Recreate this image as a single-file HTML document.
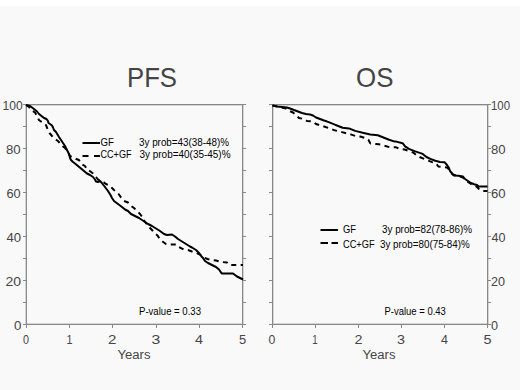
<!DOCTYPE html>
<html><head><meta charset="utf-8"><style>
html,body{margin:0;padding:0;background:#fff;}
body{width:520px;height:390px;overflow:hidden;position:relative;}
.bg{position:absolute;left:0;top:6px;width:520px;height:384px;background:#f9f9f9;}
svg{position:absolute;left:0;top:0;}
text{font-family:"Liberation Sans", sans-serif;}
</style></head><body>
<div class="bg"></div>
<svg width="520" height="390" viewBox="0 0 520 390">
<rect x="25" y="104" width="1" height="221" fill="#d4d4d4"/>
<rect x="243" y="104" width="1" height="221" fill="#d4d4d4"/>
<rect x="26" y="105" width="217" height="1" fill="#d4d4d4"/>
<rect x="26" y="323" width="217" height="1" fill="#d4d4d4"/>
<rect x="26" y="104" width="217" height="1" fill="#888"/>
<rect x="26" y="324" width="217" height="1" fill="#888"/>
<rect x="26" y="104" width="1" height="221" fill="#888"/>
<rect x="242" y="104" width="1" height="221" fill="#888"/>
<rect x="23" y="104" width="3" height="1" fill="#888"/>
<rect x="243" y="104" width="3" height="1" fill="#888"/>
<rect x="23" y="126" width="3" height="1" fill="#888"/>
<rect x="243" y="126" width="3" height="1" fill="#888"/>
<rect x="23" y="148" width="3" height="1" fill="#888"/>
<rect x="243" y="148" width="3" height="1" fill="#888"/>
<rect x="23" y="170" width="3" height="1" fill="#888"/>
<rect x="243" y="170" width="3" height="1" fill="#888"/>
<rect x="23" y="192" width="3" height="1" fill="#888"/>
<rect x="243" y="192" width="3" height="1" fill="#888"/>
<rect x="23" y="214" width="3" height="1" fill="#888"/>
<rect x="243" y="214" width="3" height="1" fill="#888"/>
<rect x="23" y="236" width="3" height="1" fill="#888"/>
<rect x="243" y="236" width="3" height="1" fill="#888"/>
<rect x="23" y="258" width="3" height="1" fill="#888"/>
<rect x="243" y="258" width="3" height="1" fill="#888"/>
<rect x="23" y="280" width="3" height="1" fill="#888"/>
<rect x="243" y="280" width="3" height="1" fill="#888"/>
<rect x="23" y="302" width="3" height="1" fill="#888"/>
<rect x="243" y="302" width="3" height="1" fill="#888"/>
<rect x="23" y="324" width="3" height="1" fill="#888"/>
<rect x="243" y="324" width="3" height="1" fill="#888"/>
<rect x="26" y="325" width="1" height="3" fill="#888"/>
<rect x="69" y="325" width="1" height="3" fill="#888"/>
<rect x="112" y="325" width="1" height="3" fill="#888"/>
<rect x="156" y="325" width="1" height="3" fill="#888"/>
<rect x="199" y="325" width="1" height="3" fill="#888"/>
<rect x="242" y="325" width="1" height="3" fill="#888"/>
<rect x="273" y="104" width="1" height="221" fill="#d4d4d4"/>
<rect x="488" y="104" width="1" height="221" fill="#d4d4d4"/>
<rect x="272" y="105" width="216" height="1" fill="#d4d4d4"/>
<rect x="272" y="323" width="216" height="1" fill="#d4d4d4"/>
<rect x="272" y="104" width="216" height="1" fill="#888"/>
<rect x="272" y="324" width="216" height="1" fill="#888"/>
<rect x="272" y="104" width="1" height="221" fill="#888"/>
<rect x="487" y="104" width="1" height="221" fill="#888"/>
<rect x="269" y="104" width="3" height="1" fill="#888"/>
<rect x="488" y="104" width="3" height="1" fill="#888"/>
<rect x="269" y="126" width="3" height="1" fill="#888"/>
<rect x="488" y="126" width="3" height="1" fill="#888"/>
<rect x="269" y="148" width="3" height="1" fill="#888"/>
<rect x="488" y="148" width="3" height="1" fill="#888"/>
<rect x="269" y="170" width="3" height="1" fill="#888"/>
<rect x="488" y="170" width="3" height="1" fill="#888"/>
<rect x="269" y="192" width="3" height="1" fill="#888"/>
<rect x="488" y="192" width="3" height="1" fill="#888"/>
<rect x="269" y="214" width="3" height="1" fill="#888"/>
<rect x="488" y="214" width="3" height="1" fill="#888"/>
<rect x="269" y="236" width="3" height="1" fill="#888"/>
<rect x="488" y="236" width="3" height="1" fill="#888"/>
<rect x="269" y="258" width="3" height="1" fill="#888"/>
<rect x="488" y="258" width="3" height="1" fill="#888"/>
<rect x="269" y="280" width="3" height="1" fill="#888"/>
<rect x="488" y="280" width="3" height="1" fill="#888"/>
<rect x="269" y="302" width="3" height="1" fill="#888"/>
<rect x="488" y="302" width="3" height="1" fill="#888"/>
<rect x="269" y="324" width="3" height="1" fill="#888"/>
<rect x="488" y="324" width="3" height="1" fill="#888"/>
<rect x="272" y="325" width="1" height="3" fill="#888"/>
<rect x="315" y="325" width="1" height="3" fill="#888"/>
<rect x="358" y="325" width="1" height="3" fill="#888"/>
<rect x="401" y="325" width="1" height="3" fill="#888"/>
<rect x="444" y="325" width="1" height="3" fill="#888"/>
<rect x="487" y="325" width="1" height="3" fill="#888"/>
<text x="127.00" y="87.00" font-size="28.50" fill="#444444" textLength="50.00" lengthAdjust="spacingAndGlyphs">PFS</text>
<text x="356.00" y="87.06" font-size="28.50" fill="#444444" textLength="37.40" lengthAdjust="spacingAndGlyphs">OS</text>
<text x="2.50" y="110.00" font-size="13.70" fill="#454545" textLength="20.20" lengthAdjust="spacingAndGlyphs">100</text>
<text x="6.00" y="154.38" font-size="13.70" fill="#454545" textLength="14.60" lengthAdjust="spacingAndGlyphs">80</text>
<text x="6.50" y="198.44" font-size="13.70" fill="#454545" textLength="14.20" lengthAdjust="spacingAndGlyphs">60</text>
<text x="6.50" y="242.12" font-size="13.70" fill="#454545" textLength="14.60" lengthAdjust="spacingAndGlyphs">40</text>
<text x="5.50" y="286.38" font-size="13.70" fill="#454545" textLength="15.60" lengthAdjust="spacingAndGlyphs">20</text>
<text x="14.00" y="330.00" font-size="13.70" fill="#454545" textLength="7.40" lengthAdjust="spacingAndGlyphs">0</text>
<text x="491.00" y="109.50" font-size="13.70" fill="#454545" textLength="19.00" lengthAdjust="spacingAndGlyphs">100</text>
<text x="491.00" y="153.94" font-size="13.70" fill="#454545" textLength="14.60" lengthAdjust="spacingAndGlyphs">80</text>
<text x="491.00" y="198.00" font-size="13.70" fill="#454545" textLength="14.60" lengthAdjust="spacingAndGlyphs">60</text>
<text x="491.50" y="242.06" font-size="13.70" fill="#454545" textLength="14.00" lengthAdjust="spacingAndGlyphs">40</text>
<text x="491.00" y="286.38" font-size="13.70" fill="#454545" textLength="14.00" lengthAdjust="spacingAndGlyphs">20</text>
<text x="491.00" y="330.00" font-size="13.70" fill="#454545" textLength="7.00" lengthAdjust="spacingAndGlyphs">0</text>
<text x="23.00" y="343.50" font-size="13.70" fill="#454545" textLength="6.00" lengthAdjust="spacingAndGlyphs">0</text>
<text x="66.50" y="343.50" font-size="13.70" fill="#454545" textLength="6.00" lengthAdjust="spacingAndGlyphs">1</text>
<text x="108.00" y="343.50" font-size="13.70" fill="#454545" textLength="8.40" lengthAdjust="spacingAndGlyphs">2</text>
<text x="151.50" y="343.50" font-size="13.70" fill="#454545" textLength="8.80" lengthAdjust="spacingAndGlyphs">3</text>
<text x="195.00" y="343.50" font-size="13.70" fill="#454545" textLength="8.00" lengthAdjust="spacingAndGlyphs">4</text>
<text x="239.00" y="343.50" font-size="13.70" fill="#454545" textLength="7.20" lengthAdjust="spacingAndGlyphs">5</text>
<text x="268.50" y="343.50" font-size="13.70" fill="#454545" textLength="6.80" lengthAdjust="spacingAndGlyphs">0</text>
<text x="312.25" y="343.50" font-size="13.70" fill="#454545" textLength="5.40" lengthAdjust="spacingAndGlyphs">1</text>
<text x="354.50" y="343.50" font-size="13.70" fill="#454545" textLength="8.00" lengthAdjust="spacingAndGlyphs">2</text>
<text x="397.00" y="343.50" font-size="13.70" fill="#454545" textLength="8.00" lengthAdjust="spacingAndGlyphs">3</text>
<text x="441.00" y="343.50" font-size="13.70" fill="#454545" textLength="7.00" lengthAdjust="spacingAndGlyphs">4</text>
<text x="483.50" y="343.50" font-size="13.70" fill="#454545" textLength="8.00" lengthAdjust="spacingAndGlyphs">5</text>
<text x="117.50" y="358.94" font-size="13.70" fill="#454545" textLength="33.00" lengthAdjust="spacingAndGlyphs">Years</text>
<text x="362.50" y="358.94" font-size="13.70" fill="#454545" textLength="33.00" lengthAdjust="spacingAndGlyphs">Years</text>
<text x="100.50" y="145.62" font-size="10.40" fill="#000" textLength="13.40" lengthAdjust="spacingAndGlyphs">GF</text>
<text x="100.50" y="157.62" font-size="10.40" fill="#000" textLength="31.00" lengthAdjust="spacingAndGlyphs">CC+GF</text>
<text x="139.00" y="145.96" font-size="10.00" fill="#000" textLength="90.00" lengthAdjust="spacingAndGlyphs">3y prob=43(38-48)%</text>
<text x="139.50" y="158.46" font-size="10.00" fill="#000" textLength="91.00" lengthAdjust="spacingAndGlyphs">3y prob=40(35-45)%</text>
<text x="343.00" y="232.94" font-size="10.40" fill="#000" textLength="13.00" lengthAdjust="spacingAndGlyphs">GF</text>
<text x="343.00" y="248.06" font-size="10.40" fill="#000" textLength="31.60" lengthAdjust="spacingAndGlyphs">CC+GF</text>
<text x="382.00" y="232.90" font-size="10.00" fill="#000" textLength="90.00" lengthAdjust="spacingAndGlyphs">3y prob=82(78-86)%</text>
<text x="380.00" y="247.90" font-size="10.00" fill="#000" textLength="89.80" lengthAdjust="spacingAndGlyphs">3y prob=80(75-84)%</text>
<text x="139.00" y="314.50" font-size="11.50" fill="#000" textLength="62.00" lengthAdjust="spacingAndGlyphs">P-value = 0.33</text>
<text x="384.50" y="315.38" font-size="11.50" fill="#000" textLength="61.40" lengthAdjust="spacingAndGlyphs">P-value = 0.43</text>
<polyline points="26,105 29,107 31.7,110.5 35,112.5 37.3,116.4 38.9,120 42.5,122.5 46,125 47.5,129 49.5,133 52,136 55,139 58,141 60.5,144 63,146.5 65,148 68,152 70,156 75,158.5 79,160 81.5,164 85,166 87,169.5 90.5,171.5 93,173.5 96,177 98,179.5 101,181 104,182.5 106,184 110,186 113,189 116,192 119,194.5 121,197.5 124,201 128,202.5 130.5,205.5 134,208 136.5,210.5 140,214 142,216.5 143.5,220 147.5,225 149,227 152,230 154.5,233 157.5,235.5 159.5,238.5 162.5,241.5 166,244 170.5,244.5 176.5,244.5 179,247 183.5,249.5 188,250 192,251.5 196.5,253 200,254.5 203.5,257.5 207.5,259 212,260 216,260.5 221.5,262 227,262.5 229.5,265 236,265 243,265" fill="none" stroke="#000" stroke-width="2" stroke-dasharray="5 4.4" stroke-linejoin="round"/>
<polyline points="26,105 30,106 34,109 37,111.5 39,114 41.5,116 44,118 46.5,119 48,121 48.5,123 50,124 52,125.5 53,127.5 54,130 56,132 59,137 61,140 63,143 65,146 67,150 68.5,153 69.5,156 70,158 71,160 73,162 75,163.5 78,166 81,168.5 84,171 87,173.5 90,175 93,177 95,179.5 96,181.5 98,182 100,181 101.5,182.5 103,184.5 105,187 106.5,189 108,191 110.5,195 112,198 114,201 118,204 122,207 125,209.5 128,211 131,214 135,216 139,218 142,220 145,222 148,224 152,226 156,228.5 160,231 164,234 167,235 172,234.5 175,236.5 178,239 182,241.5 186,244 190,246.5 192,247.5 196,250 199,253 201.5,256.5 203,258 205,261 208,263 212,265 216,267 219,269.5 221,272.5 222,273.5 233,273.5 235,275 237,276.5 240,278 243,279.5" fill="none" stroke="#000" stroke-width="2" stroke-linejoin="round"/>
<polyline points="272.5,105.5 280,107 286,108.5 289.5,111 293,112.5 296,115 299,118 304,119 307,121 313,121.5 316,124 320.5,125.5 324,126.5 329.1,128.2 334.2,130.1 336.9,130.9 342,132.1 347,133.4 351.4,134.6 355.2,135.9 360.2,136.5 364.6,137.8 368.4,139.7 370.3,143.4 376.5,144.1 381,144.7 385.4,146 389.7,147.2 395.7,147.2 399.4,148.9 404.5,149.5 408.2,150.8 413.3,152.6 416.4,155.2 419.6,157 425.8,159.6 432.1,162.1 435.9,163.3 438.4,166.5 443.5,167 447,167.5 449.5,170 451,173 454,175.5 460,176.5 463,177.5 465,180 468,182 471,184 474,185 477,187 479,189 482,191 487.5,191" fill="none" stroke="#000" stroke-width="2" stroke-dasharray="5 4.4" stroke-linejoin="round"/>
<polyline points="272.5,105.5 277,106.5 282,107 287,107.5 290,108.5 294,110 298,111.5 302,113 306,114 310,114.5 313,115.5 316,117.5 320,119 324,120.5 326.6,121.3 330,122.7 334.2,124.4 336.3,125.2 342.6,127.7 348.9,128.4 355.2,130.9 362.7,132.8 370.3,134.4 377.8,135.3 382.8,137.2 389.1,139.7 394.8,141.6 396.3,141.6 402.6,143.2 405.1,146.4 408.9,148.9 415.2,151.4 422.7,153.9 426.5,157 430.3,158.9 435.3,160.8 440,162 444.5,162.2 447,165 449,168 450,171 453,174.5 456,175.5 460,176 463,176.5 465,179 468,181 471,183 474,184.2 477,185 478.5,186.5 487.5,186.5" fill="none" stroke="#000" stroke-width="2" stroke-linejoin="round"/>
<rect x="82.5" y="142" width="17.5" height="2" fill="#000"/>
<rect x="82.5" y="155" width="6" height="2" fill="#000"/>
<rect x="94" y="155" width="6" height="2" fill="#000"/>
<rect x="320.5" y="229" width="17.5" height="2" fill="#000"/>
<rect x="320.5" y="242" width="7.5" height="2" fill="#000"/>
<rect x="331.5" y="242" width="6.5" height="2" fill="#000"/>
</svg>
</body></html>
